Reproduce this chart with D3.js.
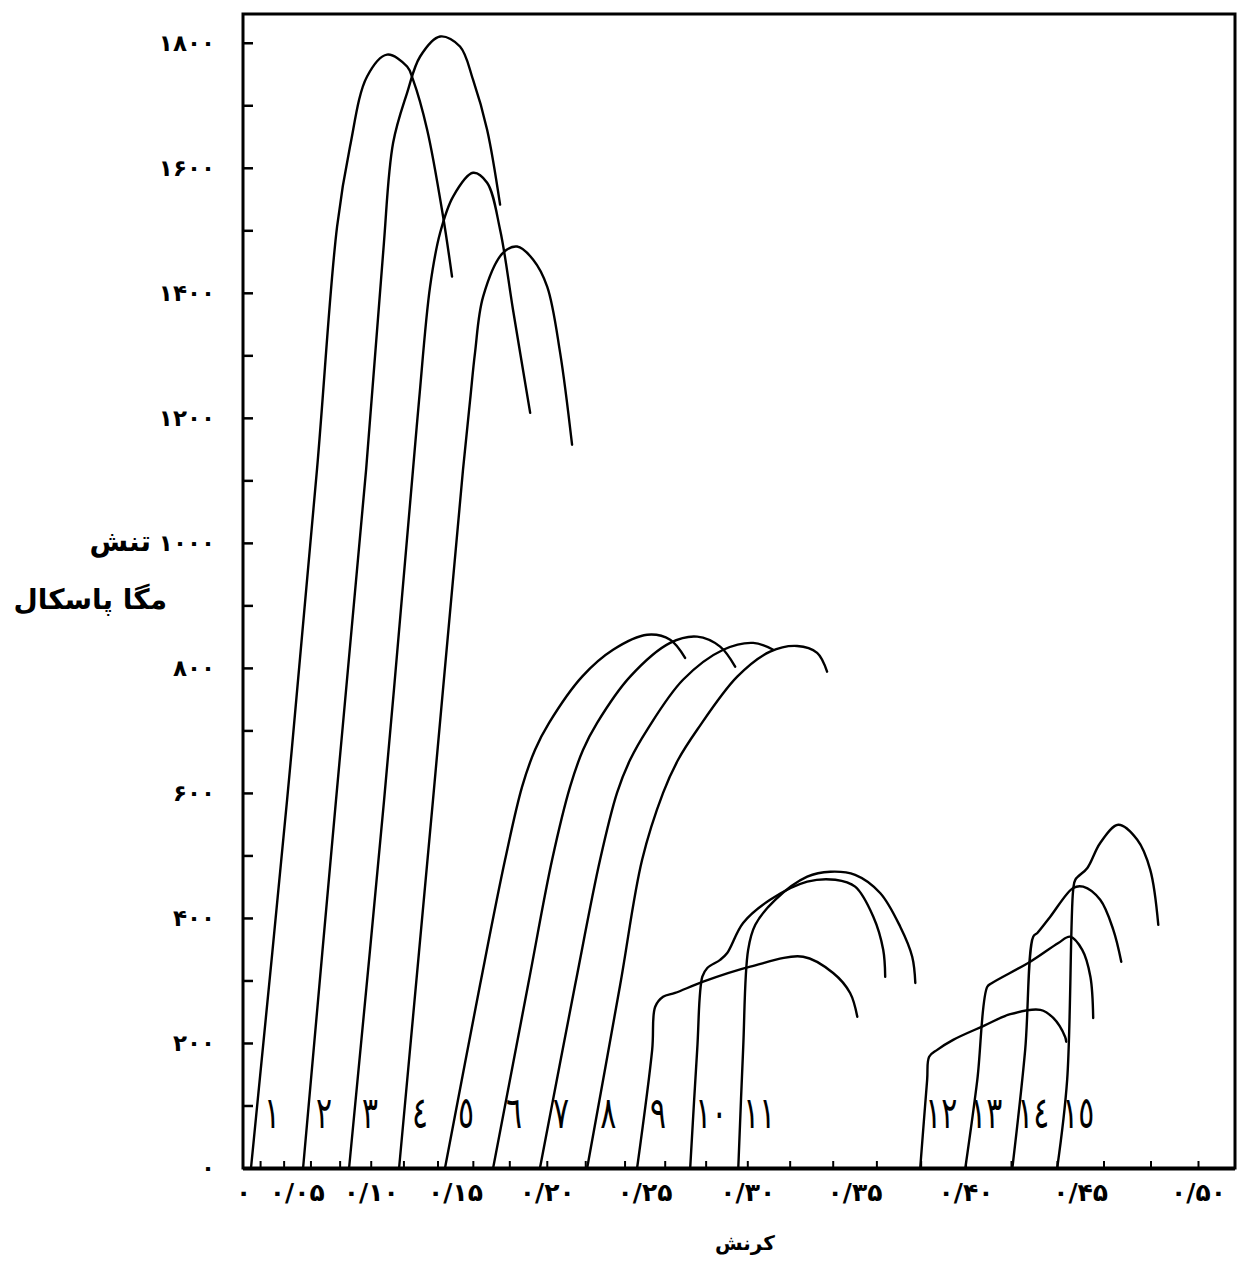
<!DOCTYPE html>
<html>
<head>
<meta charset="utf-8">
<script src="https://cdn.jsdelivr.net/npm/d3@7"></script>
<style>
    body { margin: 0; background: #fff; }
    text { font-family: "DejaVu Sans", sans-serif; fill: #000; }
</style>
</head>
<body>
<div id="chart"></div>
<script>
// number written next to each curve
let curveIds = [1, 2, 3, 4, 5, 6, 7, 8, 9, 10, 11, 12, 13, 14, 15];

// strain (x) of each read point, one list per curve
let curveStrain = [
    [0.0109, 0.0427, 0.0646, 0.0783, 0.0868, 0.0977, 0.1101, 0.1222, 0.1257, 0.1340, 0.1432, 0.1483],
    [0.0547, 0.0776, 0.0971, 0.1077, 0.1138, 0.1222, 0.1299, 0.1415, 0.1528, 0.1601, 0.1679, 0.1750],
    [0.0862, 0.1083, 0.1257, 0.1293, 0.1357, 0.1415, 0.1489, 0.1601, 0.1679, 0.1750, 0.1820, 0.1912],
    [0.1174, 0.1374, 0.1545, 0.1585, 0.1612, 0.1657, 0.1766, 0.1842, 0.1928, 0.2002, 0.2070, 0.2132],
    [0.1443, 0.1640, 0.1777, 0.1869, 0.1938, 0.2012, 0.2184, 0.2342, 0.2513, 0.2627, 0.2700],
    [0.1712, 0.1901, 0.2028, 0.2122, 0.2189, 0.2261, 0.2428, 0.2627, 0.2759, 0.2870, 0.2942],
    [0.1964, 0.2148, 0.2276, 0.2362, 0.2428, 0.2513, 0.2690, 0.2885, 0.3028, 0.3123],
    [0.2210, 0.2378, 0.2488, 0.2592, 0.2666, 0.2759, 0.2952, 0.3108, 0.3235, 0.3328, 0.3374],
    [0.2463, 0.2538, 0.2553, 0.2592, 0.2651, 0.2788, 0.3014, 0.3263, 0.3402, 0.3480, 0.3513],
    [0.2725, 0.2759, 0.2784, 0.2808, 0.2870, 0.2904, 0.2980, 0.3108, 0.3282, 0.3412, 0.3503, 0.3586, 0.3631, 0.3640],
    [0.2957, 0.2980, 0.3004, 0.3038, 0.3132, 0.3282, 0.3389, 0.3503, 0.3617, 0.3708, 0.3762, 0.3776],
    [0.3798, 0.3829, 0.3838, 0.3874, 0.3945, 0.4078, 0.4197, 0.4328, 0.4384, 0.4435, 0.4440],
    [0.3999, 0.4052, 0.4096, 0.4117, 0.4284, 0.4406, 0.4457, 0.4509, 0.4544, 0.4556],
    [0.4206, 0.4262, 0.4297, 0.4315, 0.4371, 0.4470, 0.4513, 0.4586, 0.4642, 0.4676],
    [0.4401, 0.4444, 0.4470, 0.4479, 0.4531, 0.4586, 0.4663, 0.4744, 0.4799, 0.4833]
];

// stress (MPa) of the same points
let curveStress = [
    [0, 589, 1117, 1506, 1634, 1746, 1781, 1762, 1741, 1661, 1522, 1426],
    [0, 589, 1117, 1464, 1640, 1720, 1778, 1810, 1794, 1741, 1661, 1541],
    [0, 589, 1117, 1229, 1410, 1496, 1554, 1592, 1576, 1501, 1373, 1208],
    [0, 589, 1117, 1229, 1304, 1394, 1464, 1474, 1453, 1410, 1304, 1157],
    [0, 293, 493, 610, 669, 712, 786, 829, 853, 845, 816],
    [0, 293, 493, 610, 669, 712, 786, 840, 850, 834, 802],
    [0, 293, 493, 600, 653, 701, 781, 829, 840, 829],
    [0, 293, 493, 600, 653, 701, 786, 826, 835, 824, 794],
    [0, 189, 258, 274, 280, 298, 322, 338, 312, 280, 242],
    [0, 189, 306, 320, 333, 344, 392, 429, 458, 461, 450, 402, 349, 306],
    [0, 189, 349, 389, 429, 466, 474, 469, 440, 386, 338, 296],
    [0, 141, 178, 189, 205, 227, 246, 253, 240, 210, 202],
    [0, 141, 290, 296, 330, 360, 370, 349, 306, 240],
    [0, 189, 370, 376, 402, 448, 450, 429, 381, 330],
    [0, 141, 445, 461, 480, 520, 549, 525, 477, 389]
];

let stressLabels = [0, 200, 400, 600, 800, 1000, 1200, 1400, 1600, 1800];
let strainLabels = [0, 0.05, 0.10, 0.15, 0.20, 0.25, 0.30, 0.35, 0.40, 0.45, 0.50];

let yTitle = "تنش";
let yUnit = "مگا پاسکال";
let xTitle = "کرنش";

let svg, x, y;
let margin = { left: 243, top: 14 };
let plotW = 992, plotH = 1154;

window.onload = initChart();

function faNum(s) {
    return String(s).replace(/[0-9]/g, function (c) { return "۰۱۲۳۴۵۶۷۸۹"[c]; });
}

function arNum(s) {
    return String(s).replace(/[0-9]/g, function (c) { return "٠١٢٣٤٥٦٧٨٩"[c]; });
}

function initChart() {
    svg = d3.select('#chart')
        .append('svg')
        .attr('width', 1241)
        .attr('height', 1272);

    // the printed strain axis is stretched toward the right, a pow scale follows it
    x = d3.scalePow().exponent(1.25)
        .domain([0, 0.5])
        .range([0, 955]);

    y = d3.scaleLinear()
        .domain([0, 1846])
        .range([plotH, 0]);

    plot();
}

function plot() {
    var g = svg.append('g')
        .attr('transform', 'translate(' + margin.left + ',' + margin.top + ')');

    // y axis: inner ticks every 100, labels every 200
    var yAxis = d3.axisLeft(y)
        .tickValues(d3.range(0, 1846, 100))
        .tickSize(-10)
        .tickPadding(28)
        .tickFormat(function (d) { return stressLabels.indexOf(d) >= 0 ? faNum(d) : ''; });

    g.append('g')
        .attr('class', 'y-axis')
        .call(yAxis)
        .call(function (a) { a.select('.domain').remove(); })
        .call(function (a) {
            a.selectAll('line').attr('stroke', '#000').attr('stroke-width', 2.5);
            a.selectAll('text')
                .style('font-family', '"DejaVu Sans", sans-serif')
                .style('font-weight', 'bold')
                .style('font-size', '23px')
                .attr('fill', '#000');
        });

    // x axis small inner ticks
    var xMinor = d3.axisBottom(x)
        .tickValues(d3.range(0.02, 0.5201, 0.02))
        .tickSize(-7)
        .tickFormat('');

    g.append('g')
        .attr('transform', 'translate(0,' + plotH + ')')
        .call(xMinor)
        .call(function (a) { a.select('.domain').remove(); })
        .call(function (a) { a.selectAll('line').attr('stroke', '#000').attr('stroke-width', 2); });

    var xAxis = d3.axisBottom(x)
        .tickValues(strainLabels)
        .tickSize(0)
        .tickPadding(15)
        .tickFormat(function (d) { return d == 0 ? faNum(0) : faNum(d.toFixed(2).replace('.', '/')); });

    g.append('g')
        .attr('class', 'x-axis')
        .attr('transform', 'translate(0,' + plotH + ')')
        .call(xAxis)
        .call(function (a) { a.select('.domain').remove(); })
        .call(function (a) {
            a.selectAll('text')
                .style('font-family', '"DejaVu Sans", sans-serif')
                .style('font-weight', 'bold')
                .style('font-size', '25px')
                .style('letter-spacing', '2px')
                .attr('fill', '#000');
        });

    // frame
    g.append('rect')
        .attr('x', 0)
        .attr('y', 0)
        .attr('width', plotW)
        .attr('height', plotH)
        .attr('fill', 'none')
        .attr('stroke', '#000')
        .attr('stroke-width', 3);

    g.append('line')
        .attr('x1', 0)
        .attr('x2', plotW)
        .attr('y1', plotH + 1)
        .attr('y2', plotH + 1)
        .attr('stroke', '#000')
        .attr('stroke-width', 3);

    // curves
    var line = d3.line()
        .x(function (d) { return x(d[0]); })
        .y(function (d) { return y(d[1]); })
        .curve(d3.curveCatmullRom.alpha(0.5));

    var curves = curveIds.map(function (id, i) {
        return { id: id, points: d3.zip(curveStrain[i], curveStress[i]) };
    });

    g.append('g')
        .selectAll('path')
        .data(curves)
        .enter()
        .append('path')
        .attr('class', 'curve')
        .attr('d', function (d) { return line(d.points); })
        .attr('fill', 'none')
        .attr('stroke', '#000')
        .attr('stroke-width', 2.4)
        .attr('stroke-linecap', 'round')
        .attr('stroke-linejoin', 'round');

    // curve numbers at the foot of each line, narrow like the hand lettering
    g.append('g')
        .selectAll('text')
        .data(curves)
        .enter()
        .append('text')
        .attr('transform', function (d) {
            return 'translate(' + (x(d.points[0][0]) + 21) + ',' + (plotH - 40) + ') scale(0.68,1)';
        })
        .attr('text-anchor', 'middle')
        .style('font-size', '44px')
        .text(function (d) { return arNum(d.id); });

    // titles
    svg.append('text')
        .attr('x', 151)
        .attr('y', margin.top + y(1000))
        .attr('dy', '0.3em')
        .attr('text-anchor', 'end')
        .style('font-weight', 'bold')
        .style('font-size', '28px')
        .text(yTitle);

    svg.append('text')
        .attr('x', 167)
        .attr('y', margin.top + y(1000) + 58)
        .attr('dy', '0.3em')
        .attr('text-anchor', 'end')
        .style('font-weight', 'bold')
        .style('font-size', '28px')
        .text(yUnit);

    svg.append('text')
        .attr('x', 745)
        .attr('y', 1243)
        .attr('dy', '0.35em')
        .attr('text-anchor', 'middle')
        .style('font-weight', 'bold')
        .style('font-size', '20px')
        .text(xTitle);
}
</script>
</body>
</html>
